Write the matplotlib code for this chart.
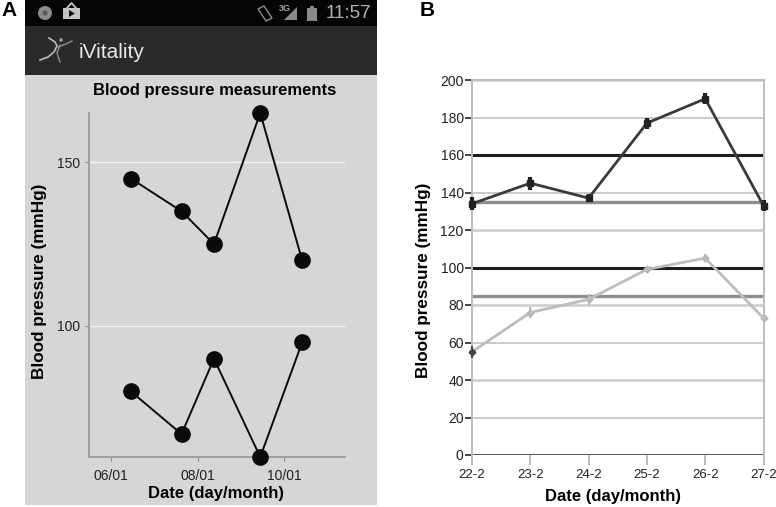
import matplotlib
matplotlib.use("Agg")
import matplotlib.pyplot as plt
from matplotlib.patches import Rectangle, Circle, Polygon

plt.rcParams["font.family"] = ["Liberation Sans", "DejaVu Sans"]

W, H = 776, 507

# panel A
phone_x = [6.46, 7.63, 8.38, 9.45, 10.42]
phone_sys = [145, 135, 125, 165, 120]
phone_dia = [80, 67, 90, 60, 95]
phone_xticks = [6, 8, 10]
phone_xlabels = ["06/01", "08/01", "10/01"]
phone_yticks = [100, 150]

# panel B
dates = ["22-2", "23-2", "24-2", "25-2", "26-2", "27-2"]
systolic = [134, 145, 137, 177, 190, 133]
systolic_err = [3.5, 3.5, 2, 3, 3, 3]
diastolic = [55, 76, 83, 99, 105, 73]
diastolic_err = [3, 3, 3, 2, 2, 2]
grid_thin = [20, 60, 140, 180]
grid_thick = [40, 80, 120, 200]
limits_dark = [160, 100]
limits_grey = [135, 85]


def axes_px(left, top, right, bottom):
    return fig.add_axes([left / W, 1 - bottom / H, (right - left) / W, (bottom - top) / H])


fig = plt.figure(figsize=(W / 100, H / 100), dpi=100, facecolor="white")

# screenshot chrome, drawn in pixel space
bg = fig.add_axes([0, 0, 1, 1])
bg.set_xlim(0, W)
bg.set_ylim(H, 0)
bg.axis("off")
bg.add_patch(Rectangle((25, 75), 352, 430, color="#d6d6d6", lw=0))
bg.add_patch(Rectangle((25, 26), 352, 49, color="#2a2a2a", lw=0))
bg.add_patch(Rectangle((25, 0), 352, 26, color="#050505", lw=0))

bg.add_patch(Circle((45, 13), 7, color="#8c8c8c", lw=0))
bg.add_patch(Circle((45, 13), 2.5, color="#5a5a5a", lw=0))
bg.add_patch(Rectangle((63, 8), 17, 11, color="#c4c4c4", lw=0))
bg.plot([67, 71.5, 76], [8, 3, 8], color="#c4c4c4", lw=1.3)
bg.add_patch(Polygon([(69, 10), (69, 17), (75, 13.5)], color="#111111", lw=0))
bg.add_patch(Polygon([(258, 9), (264, 6), (272, 18), (266, 21)], fill=False, ec="#8a8a8a", lw=1))
bg.text(279, 8.5, "3G", color="#a0a0a0", fontsize=6.5, ha="left", va="center", fontweight="bold")
bg.add_patch(Polygon([(284, 20), (297, 20), (297, 7)], color="#8a8a8a", lw=0))
bg.add_patch(Rectangle((307, 8), 10, 13, color="#8a8a8a", lw=0))
bg.add_patch(Rectangle((310, 5.5), 4, 3, color="#8a8a8a", lw=0))
bg.text(371, 13.5, "11:57", color="#b0b0b0", fontsize=13.5, ha="right", va="center")

bg.plot([40, 48, 54, 57, 55, 49], [60, 57, 52, 46, 42, 38], color="#bdbdbd", lw=1.2)
bg.plot([60, 57, 60], [62, 53, 45], color="#8f8f8f", lw=1)
bg.plot([58, 66, 72], [47, 44, 41], color="#8f8f8f", lw=1)
bg.add_patch(Circle((61, 40), 1.8, color="#9a9a9a", lw=0))
bg.text(79, 52, "iVitality", color="#e6e6e6", fontsize=15, ha="left", va="center")

bg.text(1, 11, "A", color="black", fontsize=15, fontweight="bold", ha="left", va="center")
bg.text(420, 10, "B", color="black", fontsize=15, fontweight="bold", ha="left", va="center")
bg.text(214.5, 90, "Blood pressure measurements", color="black", fontsize=12,
        fontweight="bold", ha="center", va="center")

# panel A: phone chart
ax = axes_px(89, 113, 345, 457)
ax.patch.set_alpha(0)
ax.set_xlim(5.49, 11.41)
ax.set_ylim(60, 165)
for y in phone_yticks:
    ax.axhline(y, color="#f2f2f2", lw=1, zorder=1)
ax.plot(phone_x, phone_sys, "-o", color="#0a0a0a", lw=1.4, ms=11, clip_on=False, zorder=3)
ax.plot(phone_x, phone_dia, "-o", color="#0a0a0a", lw=1.4, ms=11, clip_on=False, zorder=3)
ax.set_xticks(phone_xticks, phone_xlabels)
ax.set_yticks(phone_yticks)
ax.tick_params(colors="#8c8c8c", labelcolor="#222222", labelsize=10, length=3, width=0.8)
ax.tick_params(axis="x", direction="out", pad=6)
for side in ("top", "right"):
    ax.spines[side].set_visible(False)
for side in ("left", "bottom"):
    ax.spines[side].set_color("#969696")
    ax.spines[side].set_linewidth(1.2)
ax.set_xlabel("Date (day/month)", fontsize=12, fontweight="bold", labelpad=2, x=0.495)
ax.set_ylabel("Blood pressure (mmHg)", fontsize=12.3, fontweight="bold", labelpad=7, y=0.512)

# panel B: desktop chart
ax2 = axes_px(472, 80, 763.5, 455)
ax2.set_xlim(0, 5)
ax2.set_ylim(0, 200)
xs = list(range(len(dates)))
for y in grid_thin:
    ax2.axhline(y, color="#bcbcbc", lw=1.1, zorder=1)
for y in grid_thick:
    ax2.axhline(y, color="#cccccc", lw=1.8, zorder=1)
ax2.axhline(0, color="#444444", lw=2, zorder=2)
for y in limits_dark:
    ax2.axhline(y, color="#1e1e1e", lw=2.2, zorder=2)
for y in limits_grey:
    ax2.axhline(y, color="#8e8e8e", lw=2.4, zorder=2)
ax2.errorbar(xs, systolic, yerr=systolic_err, fmt="-s", color="#3a3a3a", lw=2, ms=4.5,
             mfc="#222222", mec="#222222", ecolor="#222222", elinewidth=3, clip_on=False, zorder=4)
ax2.errorbar(xs[1:], diastolic[1:], yerr=diastolic_err[1:], fmt="-", color="#bdbdbd", lw=2,
             ecolor="#b5b5b5", elinewidth=1.5, clip_on=False, zorder=4)
ax2.plot(xs[:2], diastolic[:2], "-", color="#bdbdbd", lw=2, clip_on=False, zorder=4)
ax2.plot(xs[1:], diastolic[1:], "D", color="#b5b5b5", ms=3.5, clip_on=False, zorder=4)
ax2.errorbar(xs[:1], diastolic[:1], yerr=diastolic_err[:1], fmt="D", color="#444444", ms=3.5,
             elinewidth=1.5, clip_on=False, zorder=5)
ax2.set_xticks(xs, dates)
ax2.set_yticks(range(0, 201, 20))
ax2.tick_params(axis="y", length=5, width=1.4, color="#444444", labelsize=10, pad=1, labelcolor="#222222")
ax2.tick_params(axis="x", length=7, width=1.4, color="#bdbdbd", labelsize=9.5, pad=3, labelcolor="#222222")
for side in ("top", "left", "right"):
    ax2.spines[side].set_color("#bdbdbd")
    ax2.spines[side].set_linewidth(1.4)
ax2.spines["bottom"].set_visible(False)
ax2.set_xlabel("Date (day/month)", fontsize=12, fontweight="bold", labelpad=5.5, x=0.483)
ax2.set_ylabel("Blood pressure (mmHg)", fontsize=12.3, fontweight="bold", labelpad=7, y=0.467)

fig.savefig("out.png", dpi=100)
